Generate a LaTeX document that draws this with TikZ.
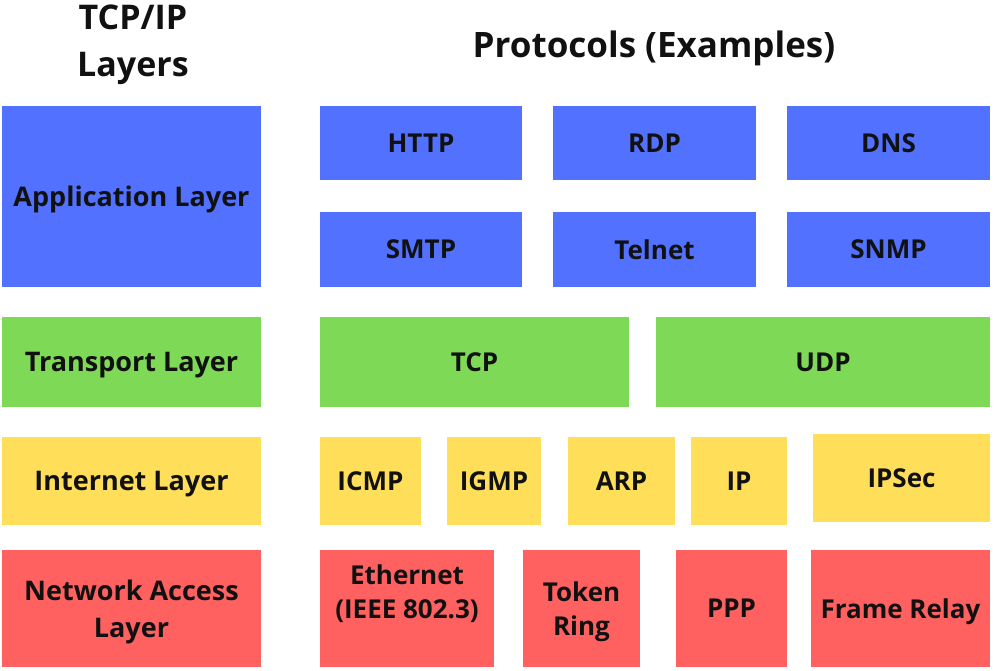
\documentclass[tikz,border=0pt]{standalone}
\usepackage{fontspec}
\setmainfont{Open Sans}
\usepackage{xcolor}
\definecolor{appblue}{HTML}{5271FF}
\definecolor{transgreen}{HTML}{7ED957}
\definecolor{inetyellow}{HTML}{FFDE59}
\definecolor{linkred}{HTML}{FF6161}
\definecolor{labelblack}{HTML}{111111}

\begin{document}
\begin{tikzpicture}[
    x=1pt, y=-1pt,
    every node/.style={align=center, inner sep=0pt, outer sep=0pt, text=labelblack},
    title/.style={font=\bfseries\fontsize{34}{47}\selectfont},
    box/.style={rectangle, anchor=north west, text depth=0pt, font=\bfseries\fontsize{26}{34}\selectfont},
    layer/.style={box, minimum width=259, font=\bfseries\fontsize{27}{37}\selectfont},
    application/.style={fill=appblue},
    transport/.style={fill=transgreen},
    internet/.style={fill=inetyellow},
    netaccess/.style={fill=linkred}
]
\useasboundingbox (0,0) rectangle (994,670);

% Headings
\node[title, anchor=base] (layerstitle) at (133,76) {TCP/IP\\Layers};
\node[title, anchor=base, font=\bfseries\fontsize{35}{40}\selectfont] (protostitle) at (654,57) {Protocols (Examples)};

% TCP/IP layers
\node[layer, application, minimum height=181] (app) at (2,106) {Application Layer};
\node[layer, transport, minimum height=90] (transport) at (2,317) {Transport Layer};
\node[layer, internet, minimum height=88] (internet) at (2,437) {Internet Layer};
\node[layer, netaccess, minimum height=117] (netaccess) at (2,550) {Network Access\\Layer};

% Application protocols
\node[box, application, minimum width=202, minimum height=74] (http) at (320,106) {HTTP};
\node[box, application, minimum width=203, minimum height=74] (rdp) at (553,106) {RDP};
\node[box, application, minimum width=203, minimum height=74] (dns) at (787,106) {DNS};
\node[box, application, minimum width=202, minimum height=75] (smtp) at (320,212) {SMTP};
\node[box, application, minimum width=203, minimum height=75] (telnet) at (553,212) {Telnet};
\node[box, application, minimum width=203, minimum height=75] (snmp) at (787,212) {SNMP};

% Transport protocols
\node[box, transport, minimum width=309, minimum height=90] (tcp) at (320,317) {TCP};
\node[box, transport, minimum width=334, minimum height=90] (udp) at (656,317) {UDP};

% Internet protocols
\node[box, internet, minimum width=101, minimum height=88] (icmp) at (320,437) {ICMP};
\node[box, internet, minimum width=94, minimum height=88] (igmp) at (447,437) {IGMP};
\node[box, internet, minimum width=107, minimum height=88] (arp) at (568,437) {ARP};
\node[box, internet, minimum width=96, minimum height=88] (ip) at (691,437) {IP};
\node[box, internet, minimum width=177, minimum height=88] (ipsec) at (813,434) {IPSec};

% Network access protocols
\node[box, netaccess, minimum width=174, minimum height=117, text depth=34pt] (ethernet) at (320,550) {Ethernet\\(IEEE 802.3)};
\node[box, netaccess, minimum width=117, minimum height=117] (tokenring) at (523,550) {Token\\Ring};
\node[box, netaccess, minimum width=111, minimum height=117] (ppp) at (676,550) {PPP};
\node[box, netaccess, minimum width=179, minimum height=117] (framerelay) at (811,550) {Frame Relay};

\end{tikzpicture}
\end{document}
